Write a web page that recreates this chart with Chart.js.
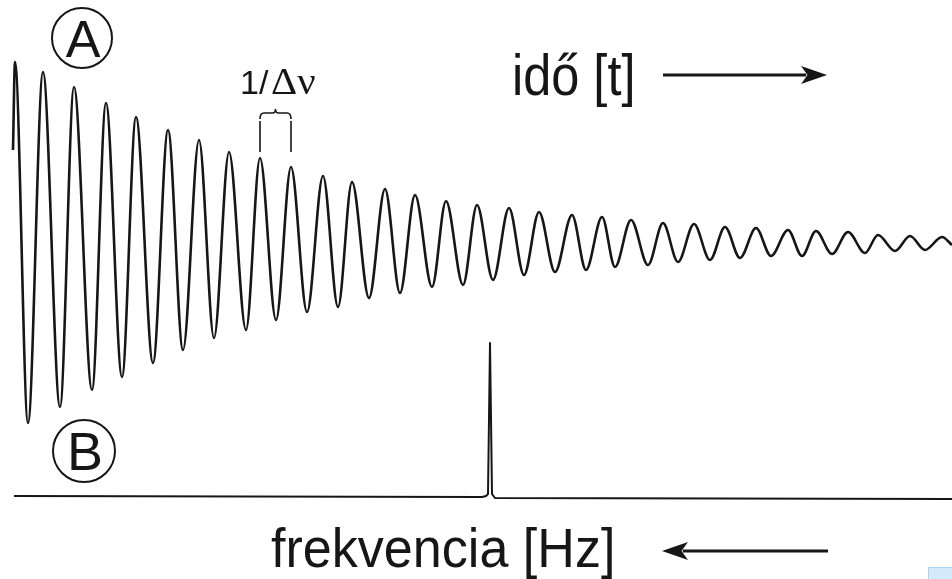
<!DOCTYPE html>
<html lang="hu">
<head>
<meta charset="UTF-8">
<title>FID és spektrum</title>
<script src="https://cdn.jsdelivr.net/npm/chart.js@4.4.0/dist/chart.umd.min.js"></script>
<style>
  html, body { margin: 0; padding: 0; background: #fff; }
  #wrap { width: 952px; height: 579px; }
</style>
</head>
<body>
<div id="wrap"><canvas id="fid" width="952" height="579"></canvas></div>
<script>
// (A) free induction decay: successive maxima / minima of the signal
const fidTime = [
  13, 15, 28, 43, 60, 74, 92, 106, 122, 136, 153, 168, 183, 199, 214, 229,
  246, 260, 276, 291, 307, 323, 338, 352, 369, 385, 400, 415, 432, 446, 463,
  477, 493, 509, 524, 539, 555, 572, 586, 602, 615, 631, 648, 663, 678, 694,
  710, 725, 740, 756, 771, 788, 802, 816, 832, 848, 865, 878, 895, 910, 925,
  942, 952
];
const fidSignal = [
  93, 181, -180, 171, -164, 156, -147, 140, -134, 126, -120, 113, -107, 103, -95, 91,
  -87, 85, -77, 76, -69, 67, -64, 61, -55, 54, -50, 48, -44, 42, -42,
  38, -37, 35, -32, 31, -29, 28, -27, 26, -24, 23, -22, 20, -19, 19,
  -17, 16, -15, 15, -13, 13, -13, 12, -11, 11, -10, 8, -8, 7, -7,
  6, -2
];

// (B) spectrum: a single narrow line on a flat baseline
const specFreq = [14, 482, 486, 488, 490, 492, 495, 952];
const specIntensity = [1, 0, 1, 3, 154, 3, -1, -2];

// the two peaks spanned by the 1/Δν bracket
const periodFrom = 17, periodTo = 19;

const ink = '#161616';

function sxText(ctx, text, x, y, font, sx) {
  ctx.save();
  ctx.font = font;
  ctx.translate(x, y);
  ctx.scale(sx, 1);
  ctx.fillText(text, 0, 0);
  ctx.restore();
}

function circled(ctx, letter, cx, cy, r, size) {
  ctx.save();
  ctx.lineWidth = 2;
  ctx.beginPath();
  ctx.arc(cx, cy, r, 0, Math.PI * 2);
  ctx.stroke();
  ctx.font = size + 'px "Liberation Sans", Arial, sans-serif';
  ctx.textAlign = 'center';
  ctx.textBaseline = 'alphabetic';
  ctx.fillText(letter, cx + 1, cy + size * 0.36);
  ctx.restore();
}

function arrow(ctx, x1, x2, y, headLen, headHalf) {
  // arrow drawn from x1 to x2, head at x2
  const dir = Math.sign(x2 - x1);
  ctx.save();
  ctx.lineWidth = 3;
  ctx.beginPath();
  ctx.moveTo(x1, y);
  ctx.lineTo(x2 - dir * headLen * 0.8, y);
  ctx.stroke();
  ctx.beginPath();
  ctx.moveTo(x2, y);
  ctx.lineTo(x2 - dir * headLen, y - headHalf);
  ctx.lineTo(x2 - dir * headLen * 0.75, y);
  ctx.lineTo(x2 - dir * headLen, y + headHalf);
  ctx.closePath();
  ctx.fill();
  ctx.restore();
}

const labels = {
  id: 'labels',
  afterDatasetsDraw(chart) {
    const ctx = chart.ctx;
    const xs = chart.scales.x;
    ctx.save();
    ctx.fillStyle = ink;
    ctx.strokeStyle = ink;

    circled(ctx, 'A', 82, 38, 30, 52);
    circled(ctx, 'B', 84, 451, 31, 54);

    // 1/Δν with its bracket over one period
    ctx.textBaseline = 'alphabetic';
    sxText(ctx, '1/', 240, 94, '34px "Liberation Sans", Arial, sans-serif', 1.0);
    sxText(ctx, 'Δν', 271, 94, '37px "Liberation Serif", "DejaVu Serif", serif', 1.1);

    const a = xs.getPixelForValue(fidTime[periodFrom]);
    const b = xs.getPixelForValue(fidTime[periodTo]);
    const m = (a + b) / 2;
    ctx.lineWidth = 1.6;
    ctx.beginPath();
    ctx.moveTo(a, 119);
    ctx.quadraticCurveTo(a, 113, a + 4, 113);
    ctx.lineTo(m - 3, 113);
    ctx.quadraticCurveTo(m, 113, m, 109);
    ctx.quadraticCurveTo(m, 113, m + 3, 113);
    ctx.lineTo(b - 4, 113);
    ctx.quadraticCurveTo(b, 113, b, 119);
    ctx.stroke();
    ctx.beginPath();
    ctx.moveTo(a, 121); ctx.lineTo(a, 152);
    ctx.moveTo(b, 121); ctx.lineTo(b, 152);
    ctx.stroke();

    // axis captions
    sxText(ctx, 'idő [t]', 512, 95, '58px "Liberation Sans", Arial, sans-serif', 0.87);
    arrow(ctx, 663, 827, 75, 26, 9);

    sxText(ctx, 'frekvencia [Hz]', 271, 567, '56px "Liberation Sans", Arial, sans-serif', 0.93);
    arrow(ctx, 828, 662, 551, 26, 9);

    // small light-blue tab in the lower right corner
    ctx.fillStyle = '#d3eafc';
    ctx.fillRect(928, 567, 24, 12);
    ctx.strokeStyle = '#a9d3f4';
    ctx.lineWidth = 1;
    ctx.strokeRect(928.5, 567.5, 24, 12);
    ctx.restore();
  }
};

new Chart(document.getElementById('fid'), {
  type: 'line',
  data: {
    datasets: [
      {
        data: fidTime.map((t, i) => ({ x: t, y: fidSignal[i] })),
        borderColor: ink,
        borderWidth: 2.6,
        pointRadius: 0,
        cubicInterpolationMode: 'monotone',
        yAxisID: 'y'
      },
      {
        data: specFreq.map((f, i) => ({ x: f, y: specIntensity[i] })),
        borderColor: ink,
        borderWidth: 2,
        pointRadius: 0,
        tension: 0,
        borderJoinStyle: 'round',
        yAxisID: 'y2'
      }
    ]
  },
  options: {
    responsive: false,
    animation: false,
    devicePixelRatio: 1,
    layout: { padding: 0 },
    plugins: { legend: { display: false }, tooltip: { enabled: false } },
    scales: {
      x: { type: 'linear', min: 0, max: 952, display: false },
      y: { min: -336, max: 243, display: false },
      y2: { min: -82, max: 497, display: false }
    }
  },
  plugins: [labels]
});
</script>
</body>
</html>
